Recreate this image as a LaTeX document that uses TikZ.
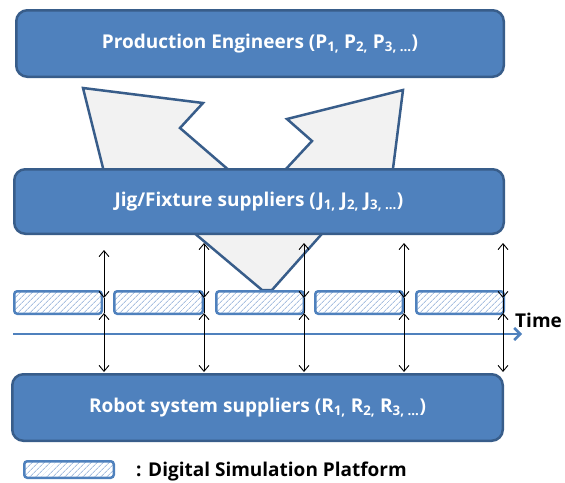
\documentclass[tikz,border=0pt]{standalone}
\usepackage{fontspec}
\setmainfont{Open Sans}
\usetikzlibrary{arrows.meta,patterns.meta}

\definecolor{boxfill}{HTML}{4F81BD}
\definecolor{boxedge}{HTML}{385D8A}
\definecolor{vfill}{HTML}{F2F2F2}
\definecolor{hatchblue}{HTML}{A9C0E0}

\tikzset{
  group/.style={draw=boxedge, fill=boxfill, line width=2.5pt, rounded corners=11pt,
    text=white, font=\bfseries\fontsize{19}{22}\selectfont, inner sep=0pt},
  platform/.style={draw=boxfill, line width=2.5pt, rounded corners=3pt,
    pattern={Lines[angle=45,distance=4pt,line width=0.9pt]}, pattern color=hatchblue},
  funnel/.style={draw=boxedge, fill=vfill, line width=2.5pt, line join=miter},
  link/.style={line width=0.9pt,
    arrows={Straight Barb[length=6pt,width=10pt]-Straight Barb[length=6pt,width=10pt]}},
  timeline/.style={draw=boxfill, line width=2.5pt,
    arrows={-Straight Barb[length=6pt,width=12pt]}},
  label/.style={font=\bfseries\fontsize{19}{22}\selectfont, inner sep=0pt}
}

\begin{document}
\begin{tikzpicture}[x=1pt,y=-1pt]
\useasboundingbox (0,0) rectangle (565,482);

% two flows from the engineers merging down onto the platform
\draw[funnel] (83,88) -- (203,103) -- (180,128) -- (260,197) -- (312,141)
  -- (287,119) -- (403,90) -- (389,200) -- (352,200) -- (272,290)
  -- (262,290) -- (155,200) -- (111,200) -- cycle;

% stakeholder groups
\node[group, minimum width=487.5pt, minimum height=66.5pt] (pe) at (260,43.5)
  {Production Engineers (P\textsubscript{1,} P\textsubscript{2,} P\textsubscript{3, ...})};
\node[group, minimum width=489.5pt, minimum height=64.5pt] (jf) at (259,201.5)
  {Jig/Fixture suppliers (J\textsubscript{1,} J\textsubscript{2,} J\textsubscript{3, ...})};

% the shared digital simulation platform along the time axis
\foreach \a/\b [count=\i] in {13/103,113/204,215/305,314/404,415/505}{
  \path[platform] (\a+1.25,291.25) rectangle (\b-1.25,313.75);
}

\coordinate (t0) at (13,334);
\coordinate (t1) at (522,334);
\draw[timeline] (t0) -- (t1);
\node[label, anchor=base west] (time) at (515,327) {Time};

% exchanges between the suppliers and the platform
\foreach \x/\t [count=\i] in {104/250,204/243,304/243,404/243,503/243}{
  \coordinate (up\i) at (\x,\t);
  \coordinate (pt\i) at (\x,298);
  \coordinate (pb\i) at (\x,313);
  \coordinate (dn\i) at (\x,372);
  \draw[link] (up\i) -- (pt\i);
  \draw[line width=0.9pt] (pt\i) -- (pb\i);
  \draw[link] (pb\i) -- (dn\i);
}

\node[group, minimum width=490.5pt, minimum height=66.5pt] (rs) at (257.5,407.5)
  {Robot system suppliers (R\textsubscript{1,} R\textsubscript{2,} R\textsubscript{3, ...})};

% legend
\path[platform] (24.25,461.25) rectangle (113.75,477.75);
\node[label, anchor=base west] (legend) at (136,476.5) {: Digital Simulation Platform};
\end{tikzpicture}
\end{document}
